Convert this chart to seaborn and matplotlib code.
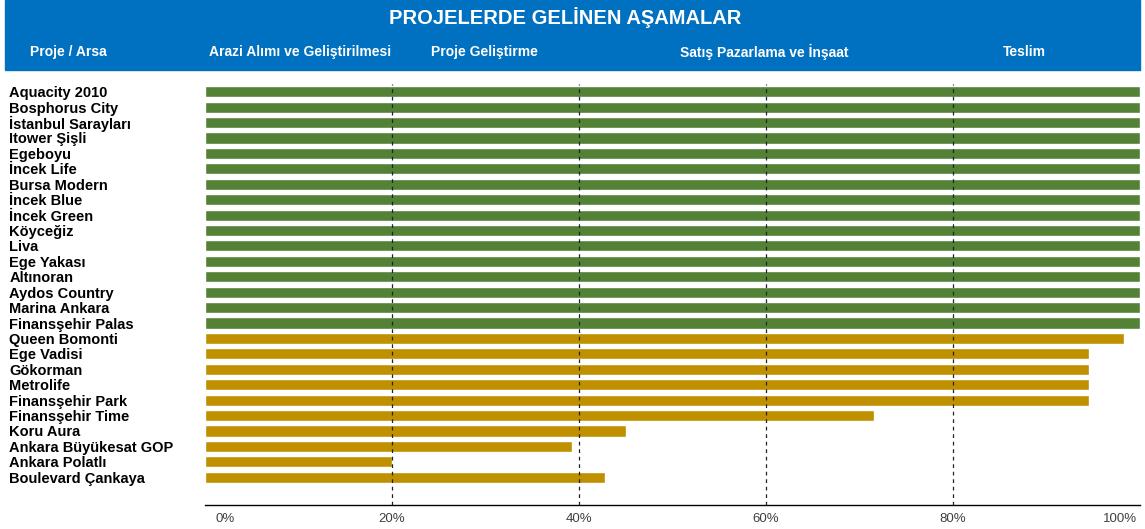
import pandas as pd
import seaborn as sns
import matplotlib.pyplot as plt
from matplotlib.patches import Rectangle

projects = ["Aquacity 2010", "Bosphorus City", "İstanbul Sarayları", "Itower Şişli",
            "Egeboyu", "İncek Life", "Bursa Modern", "İncek Blue", "İncek Green",
            "Köyceğiz", "Liva", "Ege Yakası", "Altınoran", "Aydos Country",
            "Marina Ankara", "Finansşehir Palas", "Queen Bomonti", "Ege Vadisi",
            "Gökorman", "Metrolife", "Finansşehir Park", "Finansşehir Time",
            "Koru Aura", "Ankara Büyükesat GOP", "Ankara Polatlı", "Boulevard Çankaya"]
progress = [100, 100, 100, 100, 100, 100, 100, 100, 100, 100, 100, 100, 100, 100,
            100, 100, 98.3, 94.5, 94.5, 94.5, 94.5, 71.6, 45, 39.2, 20, 42.8]
status = ["Teslim"] * 16 + ["Devam"] * 10
phases = ["Arazi Alımı ve Geliştirilmesi", "Proje Geliştirme",
          "Satış Pazarlama ve İnşaat", "Teslim"]
ticks = [0, 20, 40, 60, 80, 100]

df = pd.DataFrame({"proje": projects, "ilerleme": progress, "durum": status})

sns.set_theme(style="white")
plt.rcParams["font.family"] = ["Liberation Sans", "DejaVu Sans"]

fig = plt.figure(figsize=(11.45, 5.29), dpi=100)
ax = fig.add_axes([205 / 1145, 1 - 505 / 529, 935 / 1145, 421 / 529])

sns.barplot(data=df, x="ilerleme", y="proje", hue="durum", orient="h",
            palette={"Teslim": "#538135", "Devam": "#BF9000"},
            width=0.72, dodge=False, legend=False, ax=ax, saturation=1, zorder=1)

ax.set_xlim(0, 100)
ax.set_ylim(26.8, -0.5)
for t in ticks[1:-1]:
    ax.axvline(t, color="#222222", lw=0.9, ls=(0, (3, 3)), zorder=3)

for s in ["top", "right", "left"]:
    ax.spines[s].set_visible(False)
ax.spines["bottom"].set_color("black")
ax.spines["bottom"].set_linewidth(1)

# inner ticks as tick labels, the end ones nudged inward like the original
ax.set_xticks(ticks)
ax.set_xticklabels(["" if t in (0, 100) else f"{t}%" for t in ticks],
                   fontsize=9.5, color="#404040")
ax.tick_params(axis="x", length=0, pad=6)
for t, dx in [(0, 20), (100, -20)]:
    ax.annotate(f"{t}%", xy=(t, 0), xycoords=("data", "axes fraction"),
                xytext=(dx, -8), textcoords="offset pixels", ha="center", va="top",
                fontsize=9.5, color="#404040")

ax.set_yticks(range(len(projects)))
ax.set_yticklabels(projects, fontsize=10.5, fontweight="bold", color="black", ha="left")
ax.tick_params(axis="y", length=0, pad=141)
ax.set_xlabel("")
ax.set_ylabel("")

# blue header band
fig.patches.append(Rectangle((5 / 1145, 1 - 70 / 529), 1135 / 1145, 70 / 529,
                             transform=fig.transFigure, color="#0070C0", zorder=0))
fig.text(565 / 1145, 1 - 18 / 529, "PROJELERDE GELİNEN AŞAMALAR", color="white",
         fontsize=14.5, fontweight="bold", ha="center", va="center")
fig.text(68 / 1145, 1 - 52 / 529, "Proje / Arsa", color="white",
         fontsize=10, fontweight="bold", ha="center", va="center")
for x, p in zip([300, 484, 764, 1024], phases):
    fig.text(x / 1145, 1 - 52 / 529, p, color="white",
             fontsize=10, fontweight="bold", ha="center", va="center")

fig.savefig("out.png", dpi=100)
